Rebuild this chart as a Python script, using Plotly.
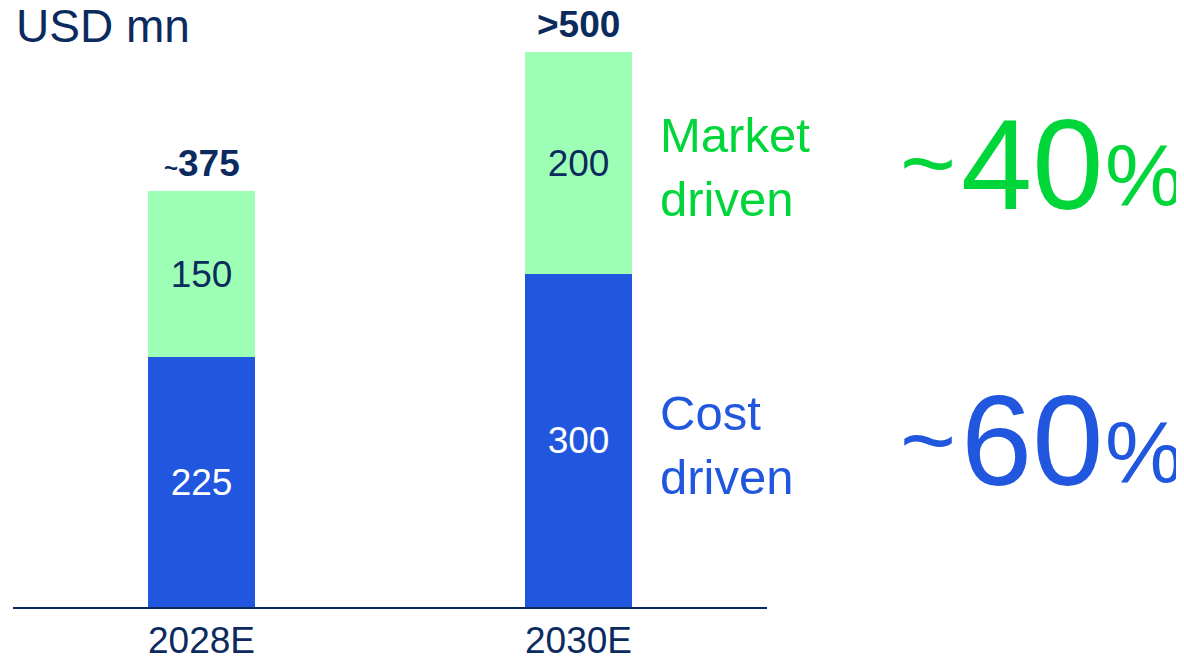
import plotly.graph_objects as go

categories = ["2028E", "2030E"]
cost_driven = [225, 300]
market_driven = [150, 200]
total_labels = ["~375", ">500"]
totals = [c + m for c, m in zip(cost_driven, market_driven)]

NAVY = "#0B2A5E"
BLUE = "#2157DE"
LIGHT_GREEN = "#9DFFB5"
GREEN = "#00D639"
FONT = "Liberation Sans, Arial, sans-serif"

# The page body has an 8px margin, so the figure starts at (8, 8) on screen.
OFF = 8
W, H = 1176, 650
# plot-area box in screen pixels
SL, SR, ST, SB = 13, 767, 52, 607


def px_x(p):
    return (p - SL) / (SR - SL)


def px_y(p):
    return (SB - p) / (SB - ST)


fig = go.Figure()
fig.add_trace(go.Bar(
    x=categories, y=cost_driven, name="Cost driven",
    marker=dict(color=BLUE, line=dict(width=0)),
    width=0.284,
    text=[str(v) for v in cost_driven], textposition="inside",
    insidetextanchor="middle",
    textfont=dict(color="white", size=37, family=FONT),
))
fig.add_trace(go.Bar(
    x=categories, y=market_driven, name="Market driven",
    marker=dict(color=LIGHT_GREEN, line=dict(width=0)),
    width=0.284,
    text=[str(v) for v in market_driven], textposition="inside",
    insidetextanchor="middle",
    textfont=dict(color=NAVY, size=37, family=FONT),
))

annotations = []
for cat, tot, lab in zip(categories, totals, total_labels):
    if lab.startswith("~"):
        txt = "<span style='font-size:24px'>~</span>" + lab[1:]
    else:
        txt = lab
    annotations.append(dict(
        x=cat, y=tot, xref="x", yref="y", text="<b>" + txt + "</b>",
        showarrow=False, yanchor="bottom", yshift=5,
        font=dict(size=37, color=NAVY, family=FONT),
    ))

annotations.append(dict(
    x=px_x(14), y=px_y(26), xref="paper", yref="paper", text="USD mn",
    showarrow=False, xanchor="left", yanchor="middle",
    font=dict(size=46, color=NAVY, family=FONT),
))
annotations.append(dict(
    x=px_x(658), y=px_y(167), xref="paper", yref="paper",
    text="Market<br>driven", align="left",
    showarrow=False, xanchor="left", yanchor="middle",
    font=dict(size=49, color=GREEN, family=FONT),
))
annotations.append(dict(
    x=px_x(658), y=px_y(445), xref="paper", yref="paper",
    text="Cost<br>driven", align="left",
    showarrow=False, xanchor="left", yanchor="middle",
    font=dict(size=49, color=BLUE, family=FONT),
))

# big share figures: tilde, number and percent sign set separately
shares = [("40", GREEN, 0), ("60", BLUE, 277)]
for num, col, dy in shares:
    annotations.append(dict(
        x=px_x(928), y=px_y(162 + dy), xref="paper", yref="paper", text="~",
        showarrow=False, xanchor="center", yanchor="middle",
        font=dict(size=96, color=col, family=FONT),
    ))
    annotations.append(dict(
        x=px_x(1032), y=px_y(164 + dy), xref="paper", yref="paper", text=num,
        showarrow=False, xanchor="center", yanchor="middle",
        font=dict(size=128, color=col, family=FONT),
    ))
    annotations.append(dict(
        x=px_x(1144), y=px_y(174 + dy), xref="paper", yref="paper", text="%",
        showarrow=False, xanchor="center", yanchor="middle",
        font=dict(size=88, color=col, family=FONT),
    ))

fig.update_layout(
    barmode="stack",
    width=W, height=H,
    margin=dict(l=SL - OFF, r=W - (SR - OFF), t=ST - OFF, b=H - (SB - OFF),
                pad=0, autoexpand=False),
    paper_bgcolor="white", plot_bgcolor="white",
    showlegend=False,
    annotations=annotations,
    uniformtext=dict(minsize=10, mode="show"),
    xaxis=dict(
        range=[-0.5, 1.5], showline=True, linecolor=NAVY, linewidth=1.5,
        showgrid=False, zeroline=False, ticks="", ticklabelstandoff=0,
        automargin=False,
        tickfont=dict(size=37, color=NAVY, family=FONT),
    ),
    yaxis=dict(range=[0, 500], visible=False, showgrid=False, zeroline=False,
               automargin=False),
)

fig.write_html("out.html")
